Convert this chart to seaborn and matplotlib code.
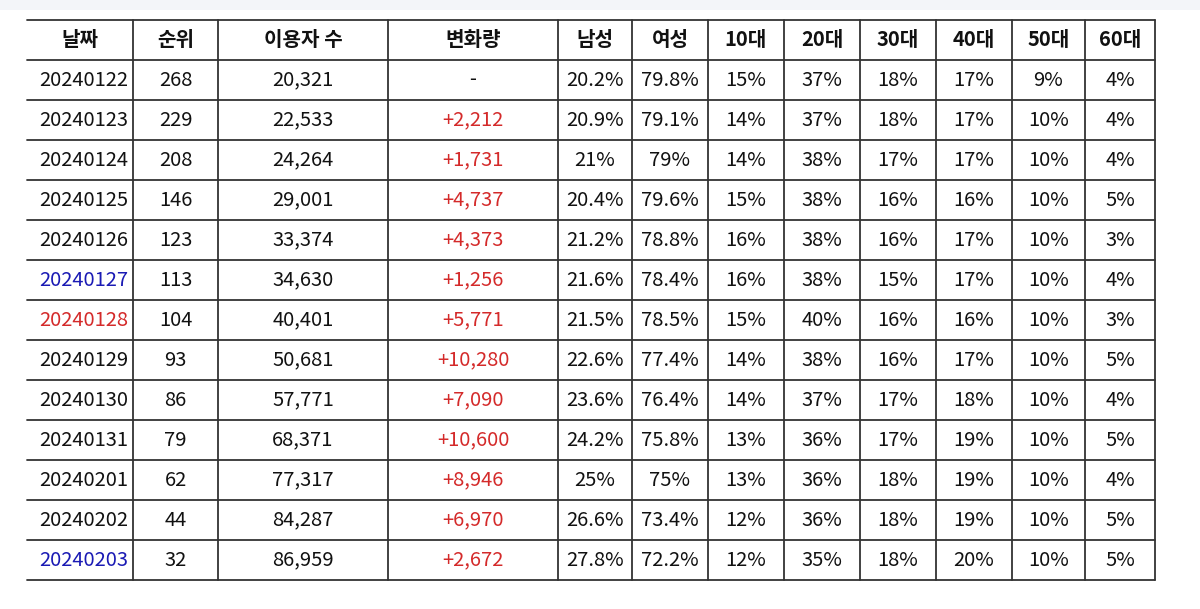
import numpy as np
import pandas as pd
import matplotlib
matplotlib.use("Agg")
import matplotlib.pyplot as plt
from matplotlib.patches import Rectangle
import seaborn as sns

FONTS = ["Noto Sans CJK KR", "Noto Sans CJK JP", "Noto Sans CJK SC", "DejaVu Sans"]
sns.set_theme(style="white")
plt.rcParams["font.family"] = "sans-serif"
plt.rcParams["font.sans-serif"] = FONTS

headers = ["날짜", "순위", "이용자 수", "변화량", "남성", "여성", "10대", "20대", "30대", "40대", "50대", "60대"]
dates = ["20240122", "20240123", "20240124", "20240125", "20240126", "20240127", "20240128",
         "20240129", "20240130", "20240131", "20240201", "20240202", "20240203"]
ranks = [268, 229, 208, 146, 123, 113, 104, 93, 86, 79, 62, 44, 32]
users = [20321, 22533, 24264, 29001, 33374, 34630, 40401, 50681, 57771, 68371, 77317, 84287, 86959]
male = ["20.2%", "20.9%", "21%", "20.4%", "21.2%", "21.6%", "21.5%", "22.6%", "23.6%", "24.2%", "25%", "26.6%", "27.8%"]
female = ["79.8%", "79.1%", "79%", "79.6%", "78.8%", "78.4%", "78.5%", "77.4%", "76.4%", "75.8%", "75%", "73.4%", "72.2%"]
age10 = [15, 14, 14, 15, 16, 16, 15, 14, 14, 13, 13, 12, 12]
age20 = [37, 37, 38, 38, 38, 38, 40, 38, 37, 36, 36, 36, 35]
age30 = [18, 18, 17, 16, 16, 15, 16, 16, 17, 17, 18, 18, 18]
age40 = [17, 17, 17, 16, 17, 17, 16, 17, 18, 19, 19, 19, 20]
age50 = [9, 10, 10, 10, 10, 10, 10, 10, 10, 10, 10, 10, 10]
age60 = [4, 4, 4, 5, 3, 4, 3, 5, 4, 5, 4, 5, 5]
date_colors = {"20240127": "#1a1ab4", "20240128": "#d42a2a", "20240203": "#1a1ab4"}

changes = ["-"] + [f"+{d:,}" for d in np.diff(users)]
df = pd.DataFrame({
    "날짜": dates, "순위": ranks, "이용자 수": [f"{u:,}" for u in users], "변화량": changes,
    "남성": male, "여성": female,
    "10대": [f"{v}%" for v in age10], "20대": [f"{v}%" for v in age20],
    "30대": [f"{v}%" for v in age30], "40대": [f"{v}%" for v in age40],
    "50대": [f"{v}%" for v in age50], "60대": [f"{v}%" for v in age60],
})

col_edges = [27, 133, 218, 388, 558, 632, 708, 784, 860, 936, 1012, 1085, 1155]
top, row_h = 20, 40

fig = plt.figure(figsize=(12, 6.09), dpi=100)
ax = fig.add_axes([0, 0, 1, 1])
ax.set_xlim(0, 1200)
ax.set_ylim(609, 0)
ax.axis("off")
ax.axhspan(0, 10, color="#f3f5f9", lw=0)

n_rows = len(df) + 1
bottom = top + row_h * n_rows
for i in range(n_rows + 1):
    ax.plot([col_edges[0], col_edges[-1]], [top + row_h * i] * 2, color="#333333", lw=1.3)
for x in col_edges[1:]:
    ax.plot([x, x], [top, bottom], color="#333333", lw=1.3)

# screenshot cuts off the left of the date column
clip = Rectangle((col_edges[0], top), col_edges[1] - col_edges[0], bottom - top, transform=ax.transData)

kw = dict(fontsize=14.5, fontfamily=FONTS)
for j, h in enumerate(headers):
    cx = (col_edges[j] + col_edges[j + 1]) / 2
    ax.text(cx, top + row_h / 2, h, ha="center", va="center", fontweight="bold", color="#111111", **kw)

for i, row in enumerate(df.itertuples(index=False)):
    cy = top + row_h * (i + 1.5)
    for j, val in enumerate(row):
        color = "#111111"
        if j == 0:
            t = ax.text(col_edges[1] - 5, cy, str(val), ha="right", va="center",
                        color=date_colors.get(val, "#111111"), **kw)
            t.set_clip_path(clip)
            continue
        if j == 3 and val != "-":
            color = "#d42a2a"
        cx = (col_edges[j] + col_edges[j + 1]) / 2
        ax.text(cx, cy, str(val), ha="center", va="center", color=color, **kw)

fig.savefig("out.png", dpi=100)
